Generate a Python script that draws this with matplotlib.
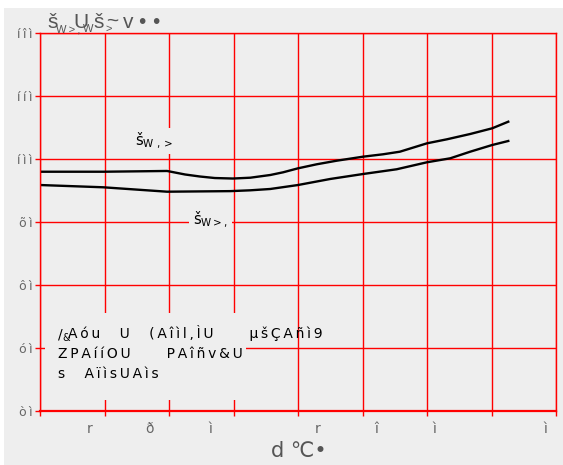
import matplotlib
matplotlib.use("Agg")
import matplotlib.pyplot as plt
from matplotlib.patches import Rectangle

# ---- data (x in grid units, y in chart units) ----
upper_x = [0, 0.99, 1.97, 2.25, 2.48, 2.71, 2.99, 3.26, 3.57, 3.77, 4.00, 4.29, 4.60,
           5.01, 5.32, 5.58, 6.00, 6.31, 6.67, 7.01, 7.26]
upper_y = [97.98, 97.98, 98.10, 97.54, 97.22, 96.98, 96.90, 97.03, 97.46, 97.89, 98.52,
           99.16, 99.73, 100.37, 100.75, 101.16, 102.49, 103.13, 103.97, 104.87, 105.92]
lower_x = [0, 0.98, 1.97, 2.95, 3.26, 3.57, 4.00, 4.50, 5.01, 5.53, 6.00, 6.36, 6.67,
           7.01, 7.26]
lower_y = [95.87, 95.51, 94.81, 94.90, 95.03, 95.24, 95.87, 96.83, 97.62, 98.37, 99.48,
           100.11, 101.16, 102.22, 102.86]

x_grid = [0, 1, 2, 3, 4, 5, 6, 7, 8]
x_label_pos = [0.775, 1.705, 2.64, 4.31, 5.22, 6.12, 7.84]
x_label_txt = ["r", "ð", "ì", "r", "î", "ì", "ì"]
y_ticks = [60, 70, 80, 90, 100, 110, 120]
y_tick_txt = ["òì", "óì", "ôì", "õì", "íìì", "ííì", "íîì"]

# title glyph runs: (text, left px, baseline px, size pt)
title_parts = [("š", 47, 28, 15), ("W\u2009>\u2009,", 56, 32, 8), ("U", 73, 28, 15),
               ("W", 83, 32, 8), ("š", 93, 28, 15), (">", 105, 32, 8),
               ("~", 106, 27, 15), ("v", 123, 28, 15), ("•", 138, 28, 15),
               ("•", 152, 28, 15)]
xlabel_txt = "d ℃•"
upper_lbl = r"š$_{\mathrm{W}\ ,>}$"
lower_lbl = r"š$_{\mathrm{W}>,}$"
note_lines = [
    "Aóu U (Aîìl,ÌU  µšÇAñì9",
    "ZPAííOU  PAîñv&U",
    "s AïìsUAìs",
]

BG = "#eeeeee"
TS = "\u2009"
W, H = 563, 465


def spaced(s):
    out = []
    for ch in s:
        out.append("\u2003" if ch == " " else ch)
    return TS.join(out)


plt.rcParams["mathtext.default"] = "regular"

fig = plt.figure(figsize=(W / 100, H / 100), dpi=100)
fig.patch.set_facecolor(BG)
# thin white margins at top and left
fig.patches.append(Rectangle((0, 0), 4 / W, 1, transform=fig.transFigure,
                             facecolor="white", edgecolor="none", zorder=-5))
fig.patches.append(Rectangle((0, (H - 8) / H), 1, 8 / H, transform=fig.transFigure,
                             facecolor="white", edgecolor="none", zorder=-5))

ax = fig.add_axes([40 / W, 54 / H, 516 / W, 378 / H])
ax.set_facecolor(BG)
ax.set_xlim(0, 8)
ax.set_ylim(60, 120)

ax.set_xticks(x_grid)
ax.set_xticklabels([""] * len(x_grid))
ax.set_xticks(x_label_pos, x_label_txt, minor=True)
ax.set_yticks(y_ticks, [TS.join(t) for t in y_tick_txt])

ax.grid(True, which="major", color="#ff0000", lw=1)
ax.set_axisbelow(True)
ax.tick_params(axis="both", which="major", color="#ff0000", length=3.6, width=1,
               labelcolor="#666666", labelsize=9)
ax.tick_params(axis="x", which="minor", length=0, pad=8, labelsize=10,
               labelcolor="#666666")
ax.tick_params(axis="y", pad=2)
for sp in ax.spines.values():
    sp.set_color("#ff0000")
    sp.set_linewidth(1)
ax.spines["bottom"].set_linewidth(1.6)

ax.plot(upper_x, upper_y, color="black", lw=1.7, zorder=2)
ax.plot(lower_x, lower_y, color="black", lw=1.7, zorder=2)

ax.text(1.47, 102.2, upper_lbl, fontsize=10.5, color="black", va="baseline", ha="left",
        bbox=dict(fc=BG, ec="none", pad=2), zorder=3)
ax.text(2.37, 89.7, lower_lbl, fontsize=10.5, color="black", va="baseline", ha="left",
        bbox=dict(fc=BG, ec="none", pad=3), zorder=3)

# note block with its background panel
ax.add_patch(Rectangle((0.0097, 0.029), 0.389, 0.23, transform=ax.transAxes,
                       facecolor=BG, edgecolor="none", zorder=1))
base_y = [0.193, 0.140, 0.0873]
ax.text(0.0349, base_y[0], "/", transform=ax.transAxes, fontsize=10, color="black",
        va="baseline", ha="left", zorder=3)
ax.annotate("&", xy=(0.0349, base_y[0]), xycoords="axes fraction", xytext=(3, -2),
            textcoords="offset points", fontsize=7, color="black", va="baseline",
            ha="left", zorder=3)
ax.annotate(spaced(note_lines[0]), xy=(0.0349, base_y[0]), xycoords="axes fraction",
            xytext=(7.5, 0), textcoords="offset points", fontsize=10, color="black",
            va="baseline", ha="left", zorder=3)
for body, by in zip(note_lines[1:], base_y[1:]):
    ax.text(0.0349, by, spaced(body), transform=ax.transAxes, fontsize=10,
            color="black", va="baseline", ha="left", zorder=3)

for txt, px, py, sz in title_parts:
    fig.text(px / W, (H - py) / H, txt, fontsize=sz, color="#555555",
             family=["Liberation Sans", "DejaVu Sans"], va="baseline", ha="left")
fig.text(299 / W, (H - 457) / H, xlabel_txt, fontsize=15, color="#555555",
         va="baseline", ha="center")

fig.savefig("out.png", dpi=100, facecolor=fig.get_facecolor())
